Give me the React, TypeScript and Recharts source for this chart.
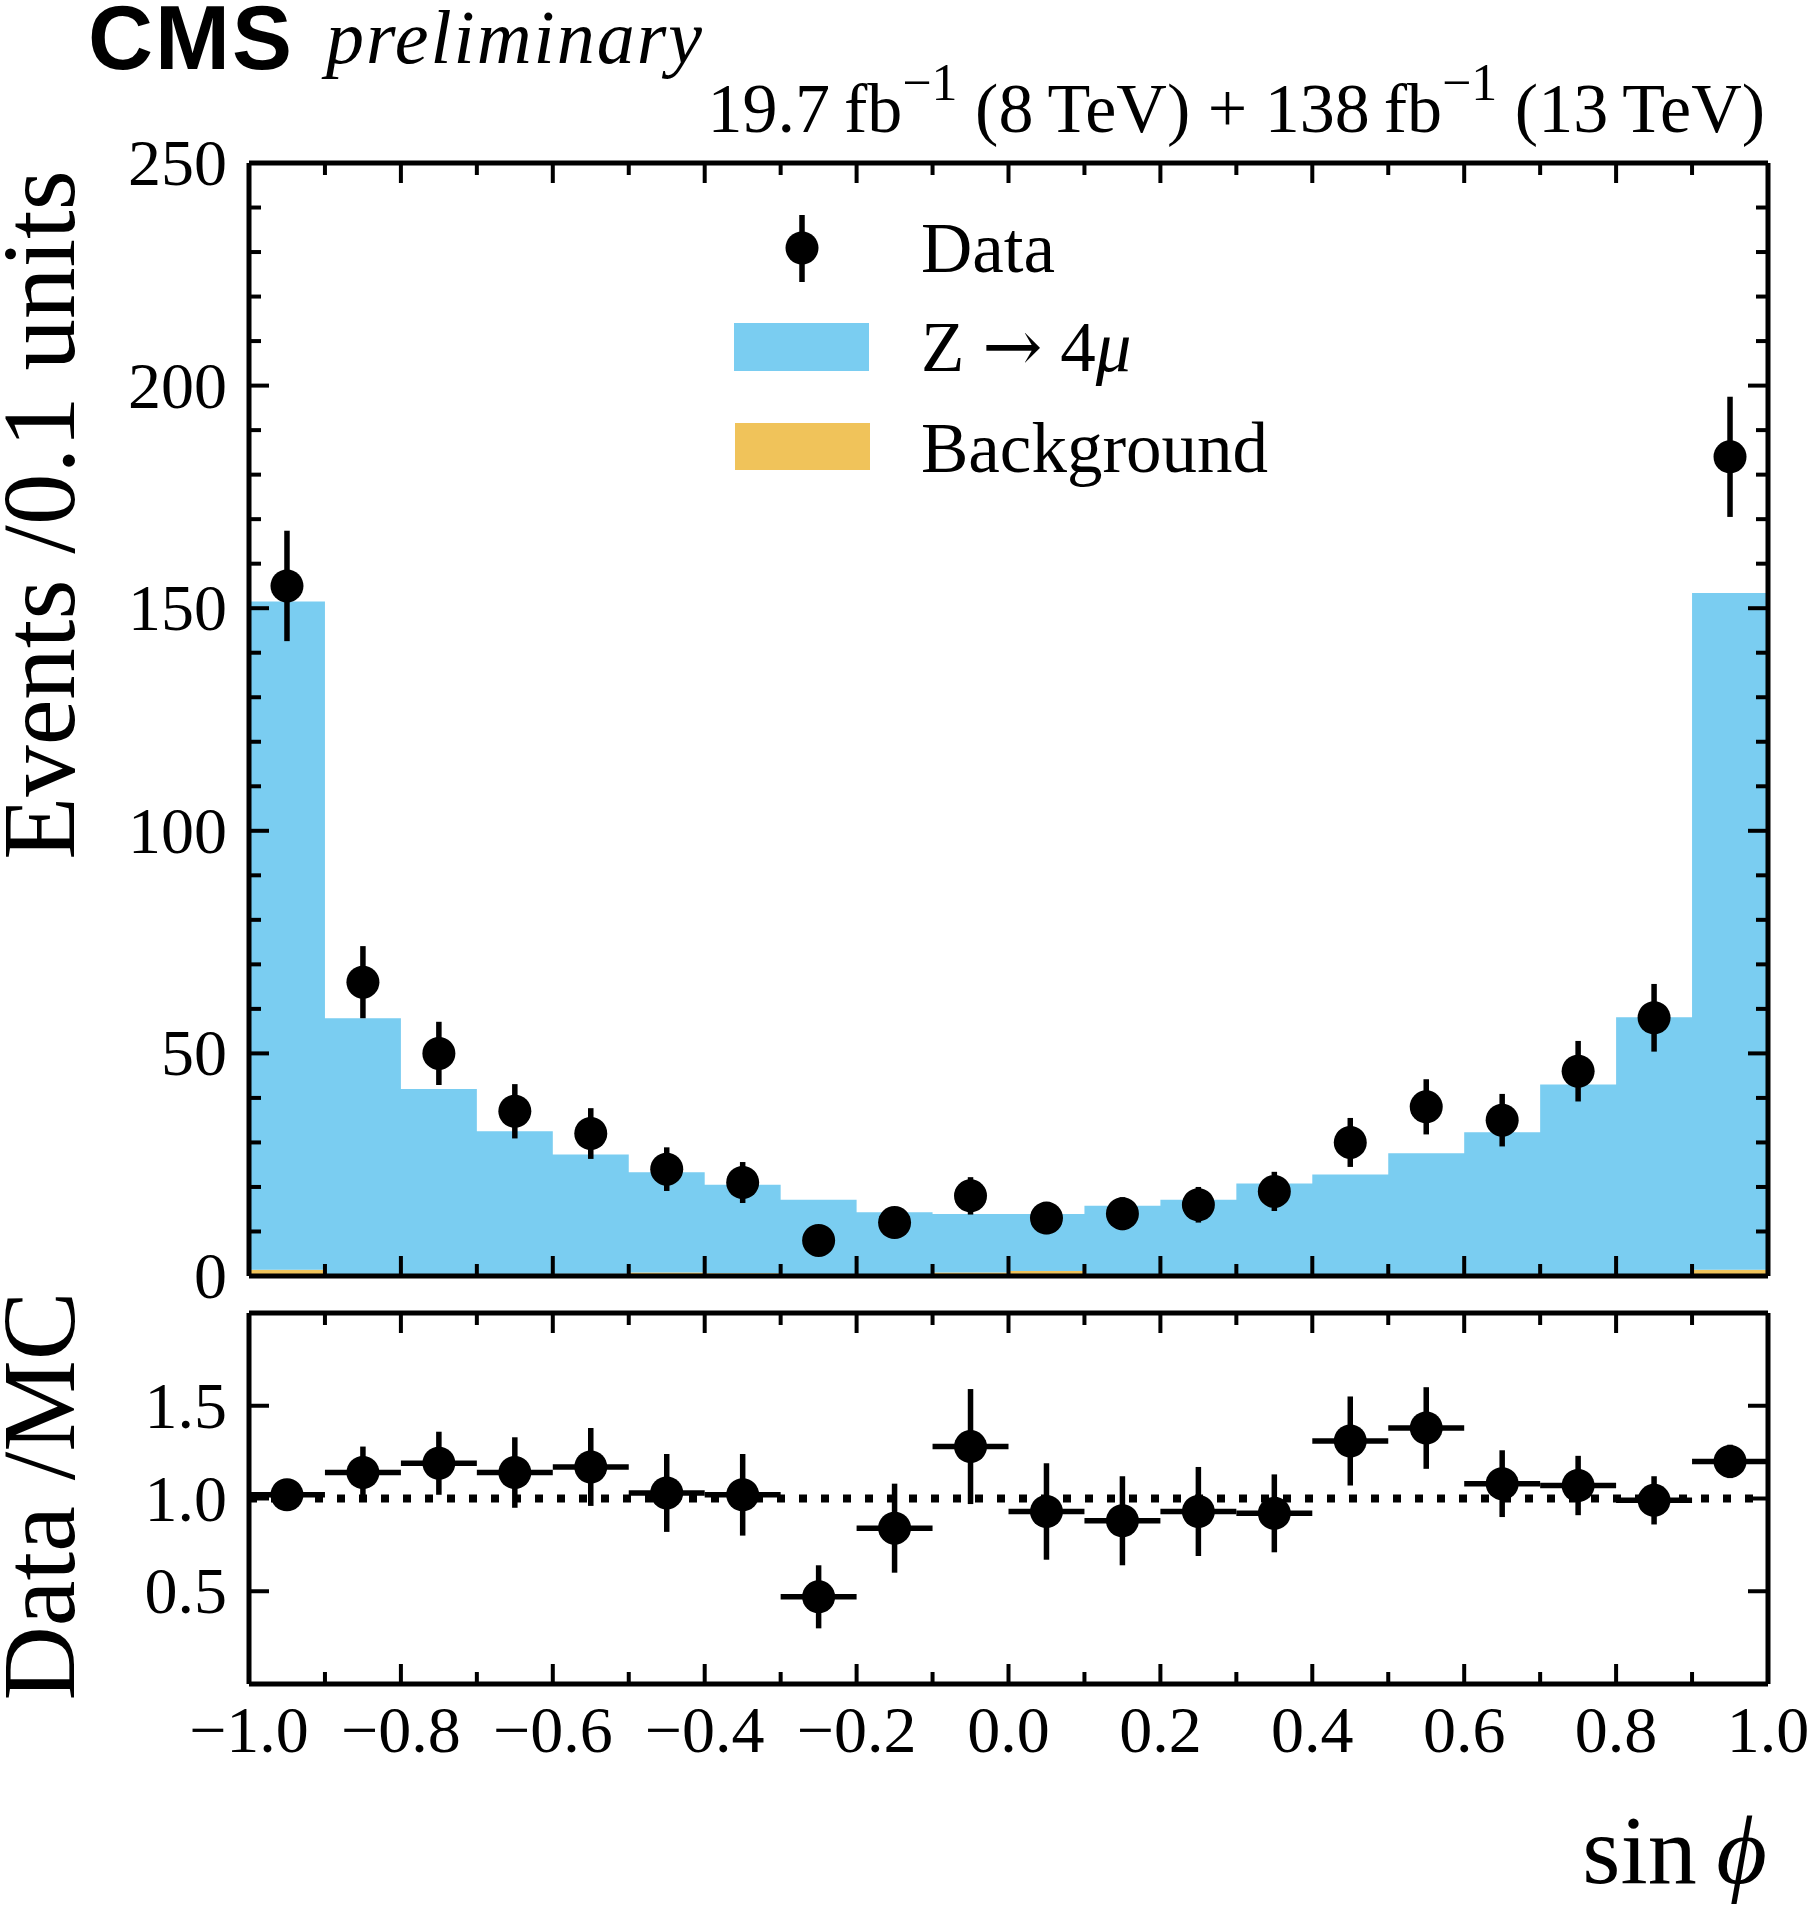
import React from 'react'
import { Area, ComposedChart, ErrorBar, ReferenceLine, Scatter, XAxis, YAxis } from 'recharts'

// 20 bins of width 0.1 in sin(phi)
const binEdges = [-1.0, -0.9, -0.8, -0.7, -0.6, -0.5, -0.4, -0.3, -0.2, -0.1, 0.0, 0.1, 0.2, 0.3, 0.4, 0.5, 0.6, 0.7, 0.8, 0.9, 1.0]
const binCenters = [-0.95, -0.85, -0.75, -0.65, -0.55, -0.45, -0.35, -0.25, -0.15, -0.05, 0.05, 0.15, 0.25, 0.35, 0.45, 0.55, 0.65, 0.75, 0.85, 0.95]
const binHalfWidth = 0.05

const zSignal = [150.1, 57.6, 41.7, 32.2, 26.8, 22.5, 19.9, 16.8, 14.0, 13.1, 12.8, 15.5, 16.8, 20.5, 22.5, 27.1, 32.0, 42.7, 57.8, 152.0]
const background = [1.4, 0.3, 0.3, 0.3, 0.5, 0.8, 0.6, 0.3, 0.3, 0.8, 1.1, 0.3, 0.3, 0.3, 0.3, 0.5, 0.3, 0.3, 0.3, 1.4]

const dataCounts = [155, 66, 50, 37, 32, 24, 21, 8, 12, 18, 13, 14, 16, 19, 30, 38, 35, 46, 58, 184]
const dataErrors = [12.4, 8.1, 7.1, 6.1, 5.7, 4.9, 4.6, 2.8, 3.5, 4.2, 3.6, 3.7, 4.0, 4.4, 5.5, 6.2, 5.9, 6.8, 7.6, 13.5]

const ratioValues = [1.02, 1.14, 1.19, 1.14, 1.17, 1.03, 1.02, 0.47, 0.84, 1.28, 0.93, 0.88, 0.93, 0.92, 1.31, 1.38, 1.08, 1.07, 0.99, 1.2]
const ratioErrors = [0.08, 0.14, 0.17, 0.19, 0.21, 0.21, 0.22, 0.17, 0.24, 0.31, 0.26, 0.24, 0.24, 0.21, 0.24, 0.22, 0.18, 0.16, 0.13, 0.09]

const xTicks = [-1.0, -0.9, -0.8, -0.7, -0.6, -0.5, -0.4, -0.3, -0.2, -0.1, 0.0, 0.1, 0.2, 0.3, 0.4, 0.5, 0.6, 0.7, 0.8, 0.9, 1.0]
const mainYTicks = [0, 10, 20, 30, 40, 50, 60, 70, 80, 90, 100, 110, 120, 130, 140, 150, 160, 170, 180, 190, 200, 210, 220, 230, 240, 250]
const ratioYTicks = [0.5, 1.0, 1.5]

const BLUE = '#7acdf1'
const ORANGE = '#f0c35a'
const SERIF = '"Liberation Serif", "DejaVu Serif", serif'
const SANS = '"Liberation Sans", Arial, sans-serif'
const TICK_FONT = 66

const histRows = binEdges.map((x, i) => {
  const b = Math.min(i, zSignal.length - 1)
  return { x, bkg: background[b], sig: zSignal[b] }
})
const dataRows = binCenters.map((x, i) => ({ x, y: dataCounts[i], err: dataErrors[i] }))
const ratioRows = binCenters.map((x, i) => ({ x, y: ratioValues[i], err: ratioErrors[i], xerr: binHalfWidth }))

type Side = 'bottom' | 'top' | 'left' | 'right'

const fmtX = (v: number) => (Math.abs(v) < 1e-9 ? '0.0' : v < 0 ? '\u2212' + Math.abs(v).toFixed(1) : v.toFixed(1))

function makeTick(side: Side, isMajor: (v: number) => boolean, label?: (v: number) => string) {
  return (props: any) => {
    const { x, y, payload } = props
    const v = payload.value
    const major = isMajor(v)
    const len = major ? 20 : 12
    let x2 = x
    let y2 = y
    if (side === 'bottom') y2 = y - len
    if (side === 'top') y2 = y + len
    if (side === 'left') x2 = x + len
    if (side === 'right') x2 = x - len
    let text = null
    if (label && major) {
      if (side === 'bottom') {
        text = (
          <text x={x} y={y + 68} textAnchor="middle" fontFamily={SERIF} fontSize={TICK_FONT} fill="#000">
            {label(v)}
          </text>
        )
      } else if (side === 'left') {
        text = (
          <text x={x - 22} y={y + 22} textAnchor="end" fontFamily={SERIF} fontSize={TICK_FONT} fill="#000">
            {label(v)}
          </text>
        )
      }
    }
    return (
      <g>
        <line x1={x} y1={y} x2={x2} y2={y2} stroke="#000" strokeWidth={4} />
        {text}
      </g>
    )
  }
}

const xMajor = (v: number) => Math.round(v * 10) % 2 === 0
const mainYMajor = (v: number) => v % 50 === 0
const allMajor = () => true

const axisLine = { stroke: '#000', strokeWidth: 5 }
const dot = (p: any) => <circle cx={p.cx} cy={p.cy} r={16.5} fill="#000" />

function MainPanel() {
  return (
    <ComposedChart width={1808} height={1320} data={histRows} margin={{ top: 0, right: 0, bottom: 0, left: 0 }}>
      <Area xAxisId="b" yAxisId="l" type="stepAfter" dataKey="bkg" stackId="mc" fill={ORANGE} fillOpacity={1} stroke="none" strokeWidth={0} isAnimationActive={false} />
      <Area xAxisId="b" yAxisId="l" type="stepAfter" dataKey="sig" stackId="mc" fill={BLUE} fillOpacity={1} stroke="none" strokeWidth={0} isAnimationActive={false} />
      <Scatter xAxisId="b" yAxisId="l" data={dataRows} dataKey="y" shape={dot} isAnimationActive={false}>
        <ErrorBar dataKey="err" direction="y" width={0} stroke="#000" strokeWidth={5.5} />
      </Scatter>
      <XAxis xAxisId="b" orientation="bottom" type="number" dataKey="x" domain={[-1, 1]} allowDataOverflow ticks={xTicks} interval={0} height={44} axisLine={axisLine} tickLine={false} tickSize={0} tickMargin={0} tick={makeTick('bottom', xMajor)} />
      <XAxis xAxisId="t" orientation="top" type="number" dataKey="x" domain={[-1, 1]} allowDataOverflow ticks={xTicks} interval={0} height={163} axisLine={axisLine} tickLine={false} tickSize={0} tickMargin={0} tick={makeTick('top', xMajor)} />
      <YAxis yAxisId="l" orientation="left" type="number" domain={[0, 250]} allowDataOverflow ticks={mainYTicks} interval={0} width={249} axisLine={axisLine} tickLine={false} tickSize={0} tickMargin={0} tick={makeTick('left', mainYMajor, (v) => String(v))} />
      <YAxis yAxisId="r" orientation="right" type="number" domain={[0, 250]} allowDataOverflow ticks={mainYTicks} interval={0} width={40} axisLine={axisLine} tickLine={false} tickSize={0} tickMargin={0} tick={makeTick('right', mainYMajor)} />
    </ComposedChart>
  )
}

function RatioPanel() {
  return (
    <ComposedChart width={1808} height={619} data={ratioRows} margin={{ top: 0, right: 0, bottom: 0, left: 0 }}>
      <ReferenceLine xAxisId="b" yAxisId="l" y={1} stroke="#000" strokeWidth={8} strokeDasharray="8 14" />
      <Scatter xAxisId="b" yAxisId="l" data={ratioRows} dataKey="y" shape={dot} isAnimationActive={false}>
        <ErrorBar dataKey="err" direction="y" width={0} stroke="#000" strokeWidth={5.5} />
        <ErrorBar dataKey="xerr" direction="x" width={0} stroke="#000" strokeWidth={5.5} />
      </Scatter>
      <XAxis xAxisId="b" orientation="bottom" type="number" dataKey="x" domain={[-1, 1]} allowDataOverflow ticks={xTicks} interval={0} height={225} axisLine={axisLine} tickLine={false} tickSize={0} tickMargin={0} tick={makeTick('bottom', xMajor, fmtX)} />
      <XAxis xAxisId="t" orientation="top" type="number" dataKey="x" domain={[-1, 1]} allowDataOverflow ticks={xTicks} interval={0} height={23} axisLine={axisLine} tickLine={false} tickSize={0} tickMargin={0} tick={makeTick('top', xMajor)} />
      <YAxis yAxisId="l" orientation="left" type="number" domain={[0, 2]} allowDataOverflow ticks={ratioYTicks} interval={0} width={249} axisLine={axisLine} tickLine={false} tickSize={0} tickMargin={0} tick={makeTick('left', allMajor, (v) => v.toFixed(1))} />
      <YAxis yAxisId="r" orientation="right" type="number" domain={[0, 2]} allowDataOverflow ticks={ratioYTicks} interval={0} width={40} axisLine={axisLine} tickLine={false} tickSize={0} tickMargin={0} tick={makeTick('right', allMajor)} />
    </ComposedChart>
  )
}

function Annotations() {
  return (
    <svg width={1808} height={1909} style={{ position: 'absolute', left: 0, top: 0, pointerEvents: 'none' }}>
      <text x={88} y={69} fontFamily={SANS} fontWeight="bold" fontSize={90} letterSpacing={2} fill="#000">CMS</text>
      <text x={326} y={63} fontFamily={SERIF} fontStyle="italic" fontSize={76} letterSpacing={2} fill="#000">preliminary</text>
      <text x={1765} y={132} textAnchor="end" fontFamily={SERIF} fontSize={70} fill="#000">
        <tspan>19.7{'\u2009'}fb</tspan>
        <tspan dy={-32} fontSize={52}>{'\u2212'}1</tspan>
        <tspan dy={32}> (8{'\u2009'}TeV) + 138{'\u2009'}fb</tspan>
        <tspan dy={-32} fontSize={52}>{'\u2212'}1</tspan>
        <tspan dy={32}> (13{'\u2009'}TeV)</tspan>
      </text>

      <text transform="translate(74, 515) rotate(-90)" textAnchor="middle" fontFamily={SERIF} fontSize={103} fill="#000">
        Events /0.1 units
      </text>
      <text transform="translate(74, 1496) rotate(-90)" textAnchor="middle" fontFamily={SERIF} fontSize={103} fill="#000">
        Data /MC
      </text>
      <text x={1767} y={1883} textAnchor="end" fontFamily={SERIF} fontSize={98} fill="#000">
        sin{'\u2009'}<tspan fontStyle="italic">{'\u03D5'}</tspan>
      </text>

      <line x1={802} y1={215} x2={802} y2={282} stroke="#000" strokeWidth={5.5} />
      <circle cx={802} cy={248} r={16.5} fill="#000" />
      <text x={921} y={272} fontFamily={SERIF} fontSize={71} fill="#000">Data</text>
      <rect x={734} y={323} width={135} height={48} fill={BLUE} />
      <text x={921} y={371} fontFamily={SERIF} fontSize={71} fill="#000">
        Z{'\u2005'}<tspan fontFamily='"DejaVu Serif", serif' fontSize={72}>{'\u2192'}</tspan>{'\u2005'}4<tspan fontStyle="italic">{'\u03BC'}</tspan>
      </text>
      <rect x={735} y={423} width={135} height={47} fill={ORANGE} />
      <text x={921} y={472} fontFamily={SERIF} fontSize={71} fill="#000">Background</text>
    </svg>
  )
}

export default function App() {
  return (
    <div style={{ position: 'absolute', left: 0, top: 0, width: 1808, height: 1909, background: '#fff' }}>
      <div style={{ position: 'absolute', left: 0, top: 0 }}>
        <MainPanel />
      </div>
      <div style={{ position: 'absolute', left: 0, top: 1290 }}>
        <RatioPanel />
      </div>
      <Annotations />
    </div>
  )
}
